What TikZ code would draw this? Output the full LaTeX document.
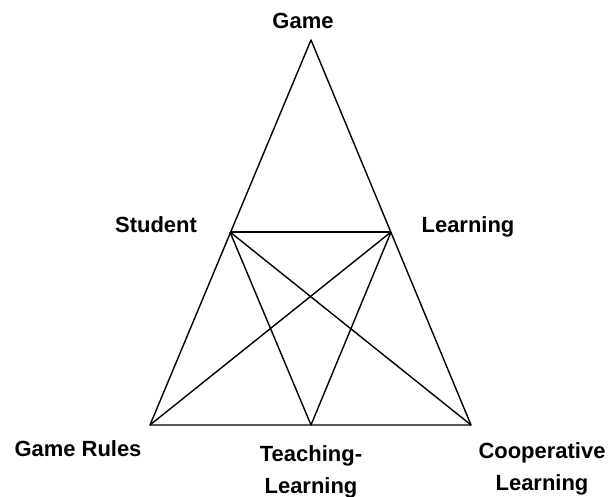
\documentclass[tikz,border=0pt]{standalone}
\usepackage{fontspec}
\setmainfont{Liberation Sans}
\usetikzlibrary{positioning}

\begin{document}
\begin{tikzpicture}[
  every node/.style={font=\bfseries\fontsize{12.5}{18.5}\selectfont,inner sep=0pt},
  lbl/.style={anchor=base},
  lbltwo/.style={anchor=north,align=center},
  edge/.style={line width=0.8pt,line join=round}
]
  \useasboundingbox (0,0) rectangle (12.26,9.94);
  % corners of the big triangle and the inner points
  \coordinate (game) at (6.22,9.14);
  \coordinate (student) at (4.60,5.30);
  \coordinate (learning) at (7.82,5.30);
  \coordinate (rules) at (3.00,1.44);
  \coordinate (teach) at (6.22,1.44);
  \coordinate (coop) at (9.42,1.44);
  % labels
  \node[lbl] (gamelbl) at (6.06,9.36) {Game};
  \node[lbl] (studentlbl) at (3.12,5.28) {Student};
  \node[lbl] (learninglbl) at (9.36,5.28) {Learning};
  \node[lbl] (ruleslbl) at (1.56,0.80) {Game Rules};
  \node[lbltwo] (teachlbl) at (6.22,1.04) {Teaching-\\Learning};
  \node[lbltwo] (cooplbl) at (10.84,1.10) {Cooperative\\Learning};
  % lines
  \draw[edge] (rules) -- (game) -- (coop) -- cycle;
  \draw[edge] (student) -- (learning);
  \draw[edge] (student) -- (teach) -- (learning);
  \draw[edge] (student) -- (coop);
  \draw[edge] (learning) -- (rules);
\end{tikzpicture}
\end{document}
